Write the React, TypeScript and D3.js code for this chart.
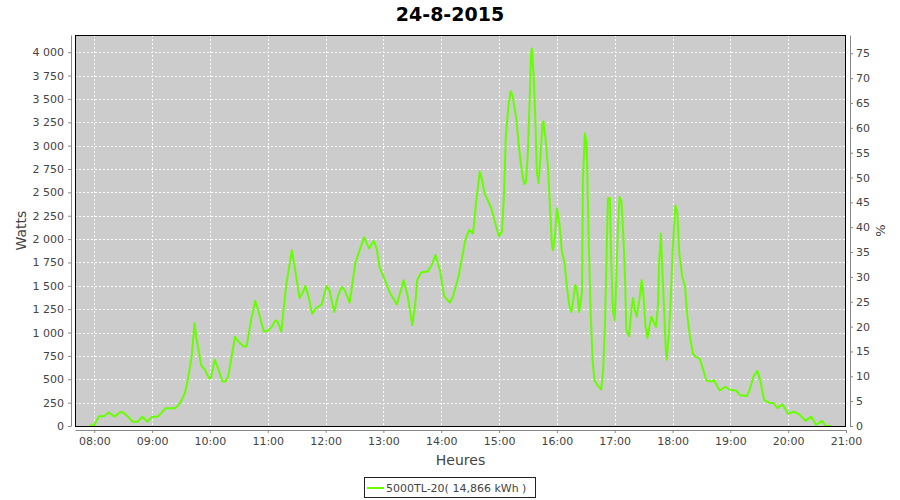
import { useEffect, useRef } from 'react';
import * as d3 from 'd3';

const chartTitle = '24-8-2015';
const legendLabel = '5000TL-20( 14,866 kWh )';
const leftLabel = 'Watts';
const rightLabel = '%';
const bottomLabel = 'Heures';
const day = '2015-08-24';

// readings, time of day
const times = [
  '07:55', '08:00', '08:05', '08:10', '08:15', '08:21', '08:27', '08:30', '08:35', '08:40',
  '08:45', '08:50', '08:55', '09:00', '09:06', '09:14', '09:20', '09:24', '09:29', '09:34',
  '09:37', '09:41', '09:44', '09:46', '09:51', '09:55', '09:59', '10:01', '10:05', '10:09',
  '10:13', '10:16', '10:19', '10:26', '10:30', '10:35', '10:38', '10:43', '10:47', '10:51',
  '10:56', '11:00', '11:04', '11:08', '11:10', '11:14', '11:16', '11:19', '11:25', '11:28',
  '11:33', '11:36', '11:39', '11:42', '11:46', '11:50', '11:53', '11:56', '12:01', '12:04',
  '12:09', '12:13', '12:17', '12:20', '12:25', '12:31', '12:36', '12:40', '12:45', '12:50',
  '12:53', '12:56', '13:02', '13:07', '13:14', '13:21', '13:25', '13:30', '13:33', '13:35',
  '13:39', '13:42', '13:46', '13:50', '13:54', '13:59', '14:03', '14:09', '14:12', '14:18',
  '14:25', '14:29', '14:33', '14:36', '14:40', '14:42', '14:45', '14:49', '14:52', '14:56',
  '15:00', '15:03', '15:05', '15:07', '15:10', '15:12', '15:14', '15:18', '15:21', '15:24',
  '15:26', '15:28', '15:30', '15:32', '15:33', '15:34', '15:36', '15:38', '15:39', '15:41',
  '15:43', '15:45', '15:46', '15:48', '15:51', '15:53', '15:55', '15:56', '15:58', '16:00',
  '16:03', '16:05', '16:08', '16:10', '16:13', '16:15', '16:17', '16:19', '16:21', '16:23',
  '16:26', '16:27', '16:29', '16:31', '16:33', '16:35', '16:37', '16:39', '16:42', '16:46',
  '16:48', '16:50', '16:52', '16:53', '16:55', '16:56', '16:58', '17:00', '17:01', '17:03',
  '17:05', '17:07', '17:09', '17:11', '17:12', '17:15', '17:17', '17:19', '17:21', '17:23',
  '17:26', '17:28', '17:30', '17:32', '17:34', '17:36', '17:38', '17:41', '17:43', '17:45',
  '17:46', '17:48', '17:49', '17:51', '17:53', '17:54', '17:56', '17:58', '18:00', '18:02',
  '18:03', '18:05', '18:07', '18:10', '18:13', '18:15', '18:18', '18:21', '18:24', '18:28',
  '18:32', '18:35', '18:40', '18:43', '18:49', '18:55', '19:00', '19:06', '19:10', '19:17',
  '19:20', '19:24', '19:28', '19:31', '19:35', '19:40', '19:45', '19:49', '19:54', '20:00',
  '20:06', '20:12', '20:18', '20:24', '20:29', '20:35', '20:39', '20:45',
];

const watts = [
  0, 10, 105, 105, 145, 100, 150, 145, 100, 45,
  45, 100, 45, 100, 100, 190, 190, 190, 245, 350,
  490, 740, 1100, 940, 650, 600, 510, 510, 710, 600,
  475, 475, 530, 955, 900, 850, 850, 1150, 1340, 1200,
  1010, 1020, 1060, 1130, 1120, 1010, 1200, 1500, 1880, 1700,
  1370, 1420, 1500, 1400, 1200, 1260, 1280, 1300, 1500, 1450,
  1220, 1400, 1490, 1450, 1320, 1750, 1900, 2020, 1900, 1980,
  1900, 1700, 1550, 1420, 1300, 1560, 1400, 1080, 1300, 1560,
  1640, 1650, 1650, 1720, 1830, 1650, 1390, 1320, 1380, 1600,
  1990, 2100, 2060, 2380, 2720, 2650, 2490, 2400, 2330, 2170,
  2030, 2080, 2450, 3100, 3450, 3580, 3540, 3280, 2950, 2700,
  2590, 2610, 2950, 3560, 3950, 4040, 3740, 3170, 2740, 2600,
  2880, 3240, 3260, 3100, 2740, 2310, 1920, 1880, 2030, 2330,
  2130, 1880, 1740, 1530, 1280, 1220, 1350, 1510, 1450, 1220,
  1420, 2630, 3130, 3020, 2000, 1240, 710, 490, 440, 390,
  600, 1130, 2030, 2440, 2440, 1920, 1240, 1130, 1380, 2030,
  2450, 2400, 2030, 1490, 1030, 960, 1210, 1370, 1240, 1170,
  1380, 1560, 1380, 1060, 940, 1060, 1170, 1100, 1060, 1310,
  1740, 2060, 1780, 1310, 810, 710, 960, 1310, 1850, 2200,
  2360, 2280, 1850, 1600, 1490, 1210, 960, 780, 740, 720,
  600, 490, 475, 490, 380, 420, 385, 380, 330, 320,
  385, 530, 590, 490, 280, 250, 245, 190, 235, 130,
  155, 120, 55, 100, 10, 55, 0, 0,
];

const wattTicks = [0, 250, 500, 750, 1000, 1250, 1500, 1750, 2000, 2250, 2500, 2750, 3000, 3250, 3500, 3750, 4000];
const pctTicks = [0, 5, 10, 15, 20, 25, 30, 35, 40, 45, 50, 55, 60, 65, 70, 75];
const timeStart = '07:40';
const timeEnd = '21:00';
const wattMax = 4184;
const pctMax = 78.68;

const width = 900;
const height = 500;
const left = 75;
const right = 846;
const top = 35;
const bottom = 426;
const font = '"DejaVu Sans", Verdana, sans-serif';
const lineColor = '#66ff00';

const parseTime = d3.timeParse('%Y-%m-%d %H:%M');
const toDate = (t: string) => parseTime(`${day} ${t}`) as Date;

const fr = d3.formatLocale({ decimal: ',', thousands: ' ', grouping: [3], currency: ['', ''] });

export default function App() {
  const gLeft = useRef<SVGGElement>(null);
  const gRight = useRef<SVGGElement>(null);
  const gBottom = useRef<SVGGElement>(null);

  const x = d3.scaleTime().domain([toDate(timeStart), toDate(timeEnd)]).range([left, right]);
  const y = d3.scaleLinear().domain([0, wattMax]).range([bottom, top]);
  const yPct = d3.scaleLinear().domain([0, pctMax]).range([bottom, top]);

  const hourTicks = x.ticks(d3.timeHour.every(1)!);

  const points = times.map((t, i) => ({ date: toDate(t), value: watts[i] }));
  const line = d3.line<{ date: Date; value: number }>()
    .x(d => x(d.date))
    .y(d => y(d.value));

  useEffect(() => {
    const style = (g: d3.Selection<SVGGElement, unknown, null, undefined>) => {
      g.attr('font-family', font).attr('font-size', 11);
      g.selectAll('.domain').attr('stroke', '#888');
      g.selectAll('.tick line').attr('stroke', '#888');
      g.selectAll('.tick text').attr('fill', '#444');
    };
    if (gLeft.current) {
      d3.select(gLeft.current)
        .call(d3.axisLeft(y).tickValues(wattTicks).tickFormat(fr.format(',d')).tickSize(3).tickSizeOuter(0).tickPadding(4))
        .call(style);
    }
    if (gRight.current) {
      d3.select(gRight.current)
        .call(d3.axisRight(yPct).tickValues(pctTicks).tickSize(3).tickSizeOuter(0).tickPadding(3))
        .call(style);
    }
    if (gBottom.current) {
      d3.select(gBottom.current)
        .call(d3.axisBottom(x).tickValues(hourTicks).tickFormat(d3.timeFormat('%H:%M') as any).tickSize(3).tickSizeOuter(0).tickPadding(4))
        .call(style);
    }
  });

  return (
    <svg width={width} height={height} style={{ position: 'absolute', left: 0, top: 0, background: '#fff' }}>
      <text x={450} y={21} textAnchor="middle" fontFamily={font} fontWeight="bold" fontSize={19} fill="#000">
        {chartTitle}
      </text>

      <rect x={left} y={top} width={right - left} height={bottom - top} fill="#cccccc" />

      <g stroke="#fff" strokeDasharray="2,2" strokeWidth={1} shapeRendering="crispEdges">
        {wattTicks.map(v => (
          <line key={`h${v}`} x1={left} x2={right} y1={Math.round(y(v)) + 0.5} y2={Math.round(y(v)) + 0.5} />
        ))}
        {hourTicks.map(d => (
          <line key={`v${d.getTime()}`} x1={Math.round(x(d)) + 0.5} x2={Math.round(x(d)) + 0.5} y1={top} y2={bottom} />
        ))}
      </g>

      <path d={line(points) ?? ''} fill="none" stroke={lineColor} strokeWidth={2} strokeLinejoin="round" />

      <rect x={left + 0.5} y={top + 0.5} width={right - left - 1} height={bottom - top} fill="none" stroke="#000" strokeWidth={1} shapeRendering="crispEdges" />

      <g ref={gLeft} transform={`translate(${left - 4},0)`} />
      <g ref={gRight} transform={`translate(${right + 4},0)`} />
      <g ref={gBottom} transform={`translate(0,${bottom + 4})`} />

      <text transform={`translate(26,${(top + bottom) / 2}) rotate(-90)`} textAnchor="middle" fontFamily={font} fontSize={14} fill="#444">
        {leftLabel}
      </text>
      <text transform={`translate(885,${(top + bottom) / 2}) rotate(-90)`} textAnchor="middle" fontFamily={font} fontSize={13} fill="#444">
        {rightLabel}
      </text>
      <text x={(left + right) / 2} y={465} textAnchor="middle" fontFamily={font} fontSize={14} fill="#444">
        {bottomLabel}
      </text>

      <g>
        <rect x={364.5} y={477.5} width={171} height={20} fill="#fff" stroke="#222" strokeWidth={1} />
        <line x1={367} x2={384} y1={488} y2={488} stroke={lineColor} strokeWidth={2} />
        <text x={386} y={492} fontFamily={font} fontSize={11} fill="#444">
          {legendLabel}
        </text>
      </g>
    </svg>
  );
}
